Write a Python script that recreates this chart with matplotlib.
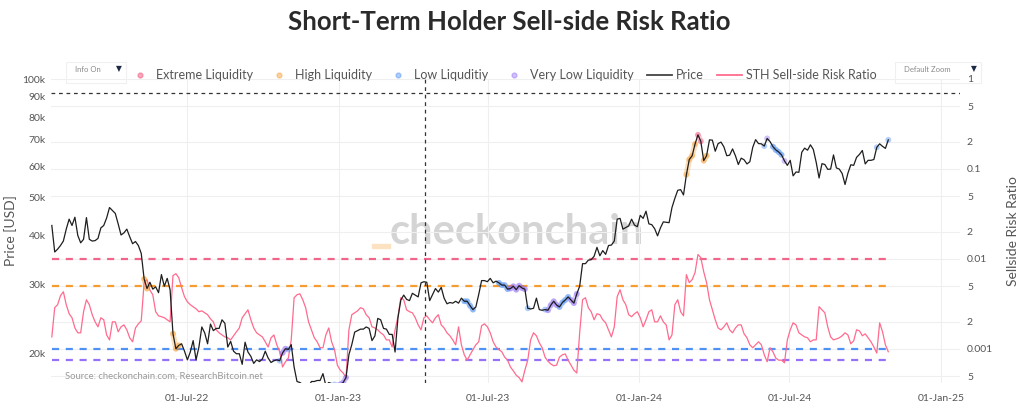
import numpy as np
import pandas as pd
import matplotlib
matplotlib.use("Agg")
import matplotlib.pyplot as plt
import matplotlib.dates as mdates
from matplotlib.ticker import FixedLocator, FuncFormatter, NullLocator
from matplotlib.lines import Line2D
from matplotlib.patches import Rectangle

plt.rcParams.update({"font.family": ["Lato", "DejaVu Sans"]})

# twice-weekly samples, 18-Jan-22 .. 29-Oct-24
dates = pd.date_range("2022-01-18", periods=291, freq="84h")

# BTC price, thousands USD
price_k = [
    42.4, 36.3, 36.9, 37.7, 38.7, 41.5, 44.0, 42.4, 44.5, 40.0,
    38.3, 39.1, 44.4, 39.1, 38.7, 38.8, 39.3, 41.8, 42.4, 44.3,
    47.1, 46.3, 45.5, 42.8, 40.1, 40.6, 41.5, 39.7, 38.1, 38.6,
    37.7, 36.0, 31.0, 29.3, 30.4, 29.2, 29.6, 28.6, 31.8, 29.7,
    31.1, 29.1, 22.5, 20.6, 21.0, 21.2, 20.3, 19.3, 20.2, 21.6,
    19.3, 20.8, 23.4, 22.6, 21.2, 23.8, 22.9, 23.2, 23.2, 24.4,
    23.9, 20.8, 21.5, 20.3, 20.0, 20.0, 18.8, 21.4, 20.2, 19.7,
    18.9, 19.3, 19.1, 19.4, 20.3, 19.5, 19.0, 19.2, 19.3, 19.2,
    20.1, 20.6, 20.5, 21.1, 18.5, 17.0, 16.9, 16.7, 16.2, 16.5,
    17.0, 17.0, 17.1, 17.1, 17.8, 16.6, 16.9, 16.8, 16.7, 16.6,
    16.7, 16.9, 17.4, 19.9, 21.1, 22.7, 22.9, 23.1, 23.1, 23.4,
    23.2, 21.6, 22.2, 24.6, 24.4, 23.2, 23.1, 22.4, 22.4, 20.2,
    24.7, 27.4, 28.2, 27.5, 27.3, 28.5, 28.2, 27.9, 30.3, 30.5,
    30.4, 27.3, 28.3, 29.3, 28.7, 29.5, 27.7, 26.8, 27.0, 26.9,
    27.2, 26.9, 27.7, 27.2, 27.2, 26.5, 25.9, 26.3, 28.3, 30.7,
    30.7, 30.5, 31.1, 30.3, 30.6, 30.3, 29.9, 29.9, 29.2, 29.3,
    29.7, 29.1, 29.8, 29.4, 29.2, 26.1, 26.0, 26.1, 27.7, 25.9,
    25.8, 25.9, 25.8, 26.6, 27.2, 26.6, 26.3, 27.0, 27.4, 27.9,
    27.4, 26.9, 28.4, 29.7, 33.9, 33.9, 34.6, 34.7, 35.4, 37.3,
    35.5, 36.6, 35.8, 37.7, 37.8, 38.7, 44.0, 44.2, 41.5, 41.9,
    42.3, 44.0, 42.5, 42.1, 45.0, 44.2, 46.1, 42.8, 42.6, 41.6,
    39.9, 41.8, 43.3, 43.2, 43.1, 47.1, 49.7, 52.1, 52.3, 50.7,
    57.1, 62.4, 63.8, 68.3, 72.1, 69.4, 62.0, 63.8, 70.0, 69.9,
    65.5, 68.5, 69.1, 67.2, 63.8, 64.0, 66.4, 63.8, 60.6, 62.9,
    62.3, 60.8, 61.6, 67.0, 70.1, 68.5, 68.4, 67.5, 70.6, 69.3,
    67.3, 66.0, 65.2, 64.1, 61.9, 60.3, 62.1, 56.7, 58.0, 57.9,
    65.1, 66.7, 65.9, 68.0, 66.2, 61.4, 56.0, 60.9, 60.6, 58.9,
    59.0, 64.1, 59.4, 59.0, 57.5, 53.9, 57.6, 60.5, 60.3, 63.2,
    64.3, 65.8, 60.8, 62.1, 62.1, 62.4, 67.0, 68.4, 67.4, 66.6,
    70.0,
]

# STH sell-side risk ratio
risk_ratio = [
    0.00136, 0.00287, 0.0031, 0.0039, 0.00432, 0.0031, 0.00246, 0.00222, 0.00171, 0.00151,
    0.00151, 0.00259, 0.00352, 0.0031, 0.0024, 0.0020, 0.00176, 0.00222, 0.00211, 0.00143,
    0.00126, 0.0020, 0.0020, 0.00155, 0.00176, 0.00185, 0.00163, 0.00133, 0.0012, 0.00171,
    0.0019, 0.00205, 0.00545, 0.00589, 0.0045, 0.0040, 0.00259, 0.00233, 0.00228, 0.00222,
    0.00211, 0.0020, 0.00652, 0.00686, 0.00619, 0.00479, 0.0038, 0.00334, 0.0031, 0.00294,
    0.00279, 0.00259, 0.00265, 0.00252, 0.0024, 0.00216, 0.0020, 0.00163, 0.00151, 0.00143,
    0.00136, 0.00133, 0.00126, 0.0014, 0.00155, 0.00171, 0.00222, 0.00246, 0.00272, 0.00211,
    0.00171, 0.00151, 0.00143, 0.00136, 0.0012, 0.00105, 0.00133, 0.00143, 0.00111, 0.00093,
    0.00063, 0.00072, 0.00079, 0.00126, 0.0037, 0.0040, 0.0041, 0.00352, 0.00287, 0.0020,
    0.00163, 0.00133, 0.0012, 0.00103, 0.00103, 0.00143, 0.00171, 0.0012, 0.00098, 0.00066,
    0.00058, 0.00054, 0.00048, 0.00163, 0.0024, 0.00252, 0.00265, 0.00287, 0.00279, 0.0024,
    0.00222, 0.00176, 0.00171, 0.00163, 0.00151, 0.00143, 0.00126, 0.00126, 0.00105, 0.00163,
    0.00228, 0.00371, 0.00352, 0.00272, 0.00259, 0.00252, 0.00222, 0.00185, 0.00163, 0.00222,
    0.00233, 0.00211, 0.00195, 0.00222, 0.0024, 0.00185, 0.00171, 0.00151, 0.0014, 0.00126,
    0.00111, 0.00176, 0.00111, 0.00086, 0.00075, 0.00086, 0.00098, 0.00111, 0.0012, 0.00181,
    0.0019, 0.00176, 0.00151, 0.0012, 0.00105, 0.00098, 0.00093, 0.00081, 0.00075, 0.00063,
    0.00057, 0.00051, 0.00048, 0.00043, 0.00058, 0.00075, 0.00126, 0.00151, 0.0014, 0.00117,
    0.00103, 0.00081, 0.00073, 0.00068, 0.00065, 0.00066, 0.00081, 0.00086, 0.00088, 0.00075,
    0.00066, 0.00058, 0.00054, 0.00151, 0.00352, 0.00371, 0.00287, 0.00259, 0.00211, 0.00246,
    0.0024, 0.00211, 0.00195, 0.00163, 0.00136, 0.00176, 0.0038, 0.00455, 0.00352, 0.0031,
    0.0024, 0.00228, 0.00246, 0.00259, 0.00222, 0.00176, 0.00211, 0.00259, 0.00272, 0.0020,
    0.0020, 0.00233, 0.0020, 0.00185, 0.00126, 0.00143, 0.0031, 0.00352, 0.00259, 0.00233,
    0.00669, 0.00545, 0.00589, 0.00705, 0.0112, 0.01035, 0.00723, 0.00545, 0.00352, 0.00272,
    0.00211, 0.00171, 0.00163, 0.00176, 0.00195, 0.00163, 0.00151, 0.00171, 0.00185, 0.00185,
    0.00147, 0.00133, 0.00111, 0.00103, 0.00111, 0.0012, 0.00111, 0.00086, 0.00072, 0.00103,
    0.00093, 0.00079, 0.00075, 0.00075, 0.0007, 0.00126, 0.00163, 0.00195, 0.00185, 0.00151,
    0.00143, 0.00136, 0.00133, 0.0012, 0.00126, 0.00126, 0.00295, 0.00272, 0.00252, 0.00176,
    0.00136, 0.00126, 0.00129, 0.00133, 0.0014, 0.00151, 0.00143, 0.00114, 0.00123, 0.00163,
    0.00159, 0.0014, 0.00147, 0.00133, 0.0012, 0.00105, 0.0009, 0.00195, 0.00155, 0.00111,
    0.00093,
]

# liquidity thresholds on the ratio
extreme_level = 0.01
high_level = 0.005
low_level = 0.001
very_low_level = 0.00075

price_ticks = [20000, 30000, 40000, 50000, 60000, 70000, 80000, 90000, 100000]
ratio_ticks = [1, 0.5, 0.2, 0.1, 0.05, 0.02, 0.01, 0.005, 0.002, 0.001, 0.0005]
date_ticks = pd.to_datetime(["2022-07-01", "2023-01-01", "2023-07-01",
                             "2024-01-01", "2024-07-01", "2025-01-01"])

# hover crosshair left on the screenshot
hover_date = pd.Timestamp("2023-04-16")
hover_price = 92000

C_EXT, C_HIGH, C_LOW, C_VLOW = "#f0557d", "#f7931a", "#3d86f5", "#8a63f5"
C_PRICE, C_RATIO = "#1e1e1e", "#ff6b8e"

price = np.array(price_k) * 1000
ratio = np.array(risk_ratio)

W, H = 1024, 411
fig = plt.figure(figsize=(W / 100, H / 100), dpi=100)
ax = fig.add_axes([51 / W, 1 - 383 / H, (960 - 51) / W, (383 - 79) / H])
axp = ax.twinx()
ax.yaxis.tick_right(); ax.yaxis.set_label_position("right")
axp.yaxis.tick_left(); axp.yaxis.set_label_position("left")
for a in (ax, axp):
    for s in a.spines.values():
        s.set_visible(False)

# ratio axis (right)
ax.set_yscale("log")
ax.set_ylim(4.18e-4, 1.0)
ax.yaxis.set_major_locator(FixedLocator(ratio_ticks))
ax.yaxis.set_minor_locator(NullLocator())
def ratio_fmt(v, _):
    e = np.log10(v)
    if abs(e - round(e)) < 1e-6:
        return f"{v:g}"
    return str(int(round(v / 10 ** np.floor(e))))
ax.yaxis.set_major_formatter(FuncFormatter(ratio_fmt))
ax.grid(True, color="#efefef", lw=0.8)
ax.set_axisbelow(True)

ax.plot(dates, ratio, color=C_RATIO, lw=0.9, zorder=3)
for lvl, c in [(extreme_level, C_EXT), (high_level, C_HIGH),
               (low_level, C_LOW), (very_low_level, C_VLOW)]:
    ax.hlines(lvl, dates[0], dates[-1], colors=c, lw=1.6,
              linestyles=(0, (3.2, 3.0)), alpha=0.9, zorder=2)

# price axis (left)
axp.set_yscale("log")
axp.set_ylim(16850, 100000)
axp.yaxis.set_major_locator(FixedLocator(price_ticks))
axp.yaxis.set_minor_locator(NullLocator())
axp.yaxis.set_major_formatter(FuncFormatter(lambda v, _: f"{int(v / 1000)}k"))

# liquidity highlight on the price
states = [
    (ratio >= extreme_level, C_EXT),
    ((ratio >= high_level) & (ratio < extreme_level), C_HIGH),
    ((ratio < low_level) & (ratio >= very_low_level), C_LOW),
    (ratio < very_low_level, C_VLOW),
]
for mask, c in states:
    axp.plot(dates, np.where(mask, price, np.nan), color=c, lw=4, alpha=0.3,
             solid_capstyle="round", zorder=1)
    axp.scatter(dates[mask], price[mask], s=18, color=c, alpha=0.4,
                edgecolors="none", zorder=1)
axp.plot(dates, price, color=C_PRICE, lw=0.9, zorder=2)

axp.axvline(hover_date, color="#333333", lw=0.9, ls=(0, (3, 3)), zorder=4)
axp.axhline(hover_price, color="#333333", lw=0.9, ls=(0, (3, 3)), zorder=4)

ax.set_xlim(pd.Timestamp("2022-01-17"), pd.Timestamp("2025-01-24"))
ax.xaxis.set_major_locator(FixedLocator(mdates.date2num(date_ticks)))
ax.xaxis.set_major_formatter(mdates.DateFormatter("%d-%b-%y"))

for a in (ax, axp):
    a.tick_params(length=0, labelsize=7.5, labelcolor="#555555")
ax.tick_params(axis="x", pad=8)
ax.tick_params(axis="y", pad=5)
axp.tick_params(axis="y", pad=4)

axp.set_ylabel("Price [USD]", fontsize=10, color="#555555", labelpad=4)
ax.set_ylabel("Sellside Risk Ratio", fontsize=10, color="#555555", labelpad=10)

# watermark + source
ax.text(517 / W, 1 - 232 / H, "checkonchain", transform=fig.transFigure,
        fontsize=30, fontweight="bold", color="#d4d4d4", ha="center",
        va="center", zorder=0)
fig.patches.append(Rectangle((372 / W, 1 - 248 / H), 18 / W, 4 / H,
                             transform=fig.transFigure, color="#fde2c2",
                             zorder=0))
ax.text(65 / W, 1 - 376 / H, "Source: checkonchain.com, ResearchBitcoin.net",
        transform=fig.transFigure, fontsize=6.8, color="#9a9a9a",
        va="center", zorder=5)

fig.text(0.497, 1 - 22 / H, "Short-Term Holder Sell-side Risk Ratio",
         fontsize=18.5, fontweight="bold", color="#2a2a2a",
         ha="center", va="center")

# legend
handles = [
    Line2D([], [], ls="", marker="o", ms=3.5, color=C_EXT, alpha=0.5),
    Line2D([], [], ls="", marker="o", ms=3.5, color=C_HIGH, alpha=0.4),
    Line2D([], [], ls="", marker="o", ms=3.5, color=C_LOW, alpha=0.4),
    Line2D([], [], ls="", marker="o", ms=3.5, color=C_VLOW, alpha=0.4),
    Line2D([], [], color="#444444", lw=1.3),
    Line2D([], [], color=C_RATIO, lw=1.3),
]
labels = ["Extreme Liquidity", "High Liquidity", "Low Liquditiy",
          "Very Low Liquidity", "Price", "STH Sell-side Risk Ratio"]
leg = fig.legend(handles, labels, loc="center", ncol=6, frameon=False,
                 bbox_to_anchor=(0.49, 1 - 75 / H), fontsize=9.0,
                 handlelength=2.0, handletextpad=0.3, columnspacing=1.05)
for t in leg.get_texts():
    t.set_color("#555555")

# dropdown boxes
for x0, w, label in [(66, 60, "Info On"), (895, 86, "Default Zoom")]:
    fig.patches.append(Rectangle((x0 / W, 1 - 83 / H), w / W, 21 / H,
                                 transform=fig.transFigure, fill=False,
                                 edgecolor="#f0f0f0", lw=0.8))
    fig.text((x0 + 9) / W, 1 - 69 / H, label, fontsize=5.5, color="#8a8a8a",
             va="center")
    fig.text((x0 + w - 7) / W, 1 - 69 / H, "\u25bc", fontsize=5.5,
             color="#1e2a44", va="center", ha="center",
             family=["DejaVu Sans"])

fig.savefig("out.png", dpi=100, facecolor="white")
